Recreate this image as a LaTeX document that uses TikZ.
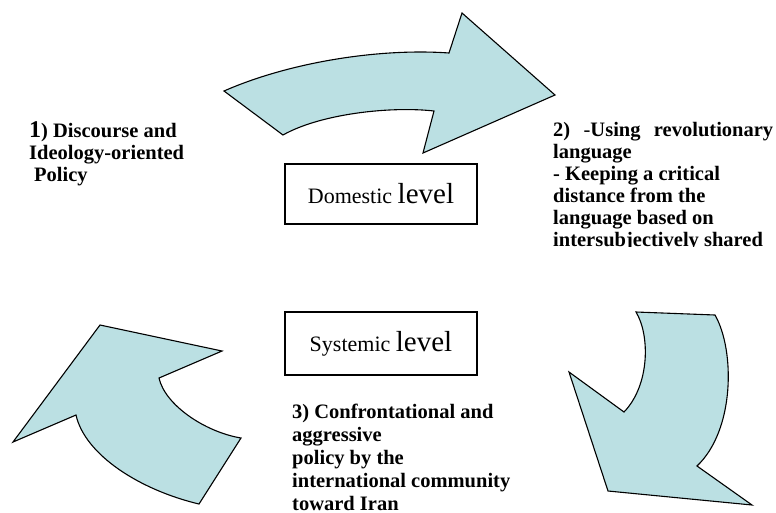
\documentclass[tikz,border=0pt]{standalone}
\usepackage{fontspec}
\setmainfont{Liberation Serif}
\definecolor{arrowfill}{RGB}{187,224,227}
\begin{document}
\begin{tikzpicture}[x=1pt,y=-1pt,
  bigarrow/.style={fill=arrowfill,draw=black,line width=1.1pt,line join=miter},
  levelbox/.style={draw=black,line width=1.1pt,inner sep=0pt,minimum width=192pt,minimum height=60pt,font=\fontsize{22}{26}\selectfont},
  labeltext/.style={anchor=north west,inner sep=0pt,align=left,font=\fontsize{20.5}{22}\selectfont\bfseries}]
\useasboundingbox (0,0) rectangle (776,512);
% top arrow
\draw[bigarrow] (224,91) .. controls (290,62) and (380,48) .. (449,53)
  -- (462,13) -- (555,95) -- (423,153) -- (434,111)
  .. controls (390,106) and (320,114) .. (283,135) -- cycle;
% right bottom arrow
\draw[bigarrow] (636,312) -- (715,315)
  .. controls (735,350) and (735,430) .. (697,466)
  -- (752,505) -- (608,491) -- (569,372) -- (624,412)
  .. controls (650,385) and (650,335) .. (636,312) -- cycle;
% left bottom arrow
\draw[bigarrow] (100,325) -- (222,351) -- (159,378)
  .. controls (165,405) and (205,432) .. (241,438)
  -- (199,504) .. controls (140,490) and (85,455) .. (76,415)
  -- (13,442) -- cycle;
% level boxes
\node[levelbox] (dom) at (381,194) {Domestic {\fontsize{29}{30}\selectfont level}};
\node[levelbox,minimum height=63pt] (sys) at (381,343.5) {Systemic {\fontsize{29}{30}\selectfont level}};
% texts
\node[labeltext] (t1) at (29,121) {\rule{0pt}{15pt}{\fontsize{24}{22}\selectfont 1}) Discourse and\\Ideology-oriented\\\hspace*{5pt}Policy};
\begin{scope}
\clip (540,100) rectangle (776,246);
\node[labeltext] (t2) at (553,121) {\rule{0pt}{15pt}\makebox[220pt][l]{2)\hfill{\mdseries -}Using\hfill revolutionary}\\language\\- Keeping a critical\\distance from the\\language based on\\intersubjectively shared};
\end{scope}
\node[labeltext,font=\fontsize{20.5}{23}\selectfont\bfseries] (t3) at (292,403) {\rule{0pt}{15pt}3) Confrontational and\\aggressive\\policy by the\\international community\\toward Iran};
\end{tikzpicture}
\end{document}
